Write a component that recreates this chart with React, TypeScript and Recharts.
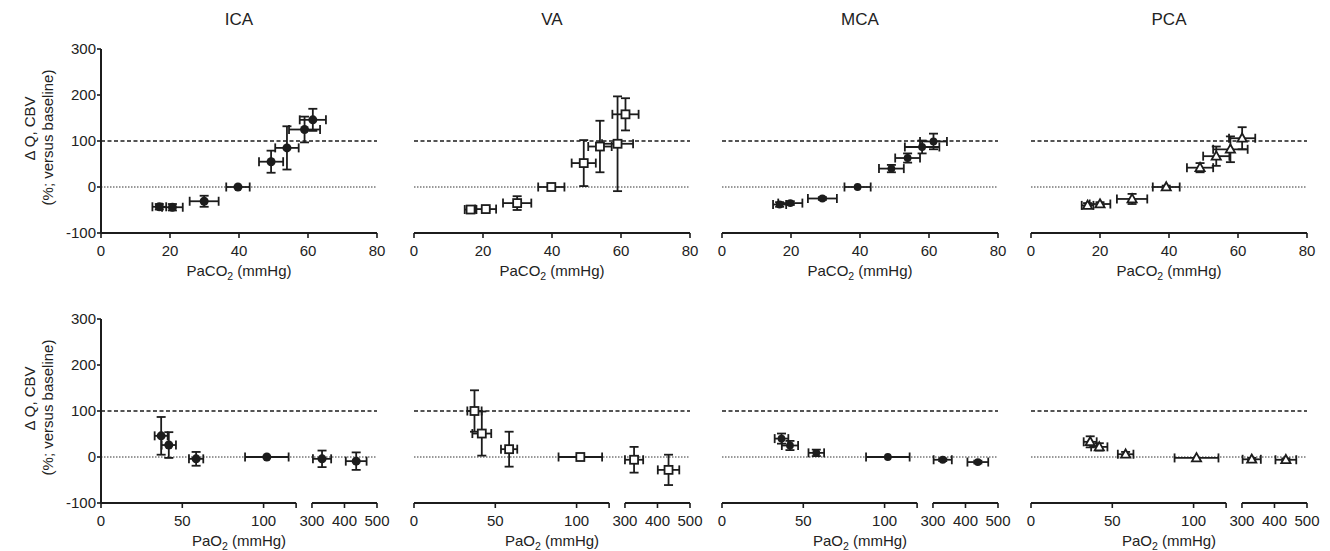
import React from 'react';
import { ScatterChart, Scatter, XAxis, YAxis, ReferenceLine, ErrorBar } from 'recharts';

// ---------- categories / tick labels ----------
const panelTitles = ['ICA', 'VA', 'MCA', 'PCA'];
const paco2Ticks = [0, 20, 40, 60, 80];
const pao2TickLabels = [0, 50, 100, 300, 400, 500];
const yTicks = [-100, 0, 100, 200, 300];

// ---------- PaCO2 row (x = PaCO2 mmHg, y = % change) ----------
const icaCO2X = [16.9, 20.7, 29.9, 39.7, 49.3, 53.9, 59.0, 61.4];
const icaCO2Y = [-43, -44, -31, 0, 55, 85, 125, 146];
const icaCO2Xe = [2.0, 3.0, 4.2, 3.4, 3.5, 3.4, 4.5, 3.8];
const icaCO2Ye = [6, 7, 12, 0, 24, 47, 28, 24];

const vaCO2X = [16.4, 20.8, 29.9, 39.8, 49.2, 53.9, 59.0, 61.3];
const vaCO2Y = [-49, -48, -35, 0, 52, 88, 94, 158];
const vaCO2Xe = [1.7, 3.0, 4.1, 3.8, 3.5, 3.4, 4.5, 3.8];
const vaCO2Ye = [4, 4, 15, 0, 50, 56, 103, 35];

const mcaCO2X = [16.7, 19.8, 29.1, 39.3, 49.1, 53.8, 58.0, 61.3];
const mcaCO2Y = [-38, -35, -25, 0, 40, 63, 87, 99];
const mcaCO2Xe = [1.9, 3.5, 4.2, 3.8, 3.6, 3.6, 5.0, 3.9];
const mcaCO2Ye = [5, 4, 3, 0, 8, 10, 14, 17];

const pcaCO2X = [16.4, 20.0, 29.3, 39.2, 49.0, 53.7, 57.8, 61.2];
const pcaCO2Y = [-40, -37, -26, 0, 42, 67, 82, 106];
const pcaCO2Xe = [1.7, 3.0, 4.4, 3.9, 3.8, 3.8, 5.0, 3.8];
const pcaCO2Ye = [5, 4, 11, 3, 10, 21, 28, 24];

// ---------- PaO2 row (x = PaO2 mmHg, y = % change) ----------
const icaO2X = [37.0, 41.7, 58.5, 102.0, 331, 436];
const icaO2Y = [46, 26, -4, 0, -4, -9];
const icaO2Xe = [4.0, 4.4, 4.4, 13.4, 28, 32];
const icaO2Ye = [41, 28, 15, 0, 18, 19];

const vaO2X = [37.2, 41.7, 58.5, 102.3, 328, 434];
const vaO2Y = [100, 51, 17, 0, -6, -28];
const vaO2Xe = [4.4, 5.8, 5.0, 13.4, 28, 33];
const vaO2Ye = [45, 48, 38, 0, 28, 33];

const mcaO2X = [36.6, 41.8, 58.0, 102.0, 330, 438];
const mcaO2Y = [40, 25, 9, 0, -6, -11];
const mcaO2Xe = [4.2, 5.0, 4.8, 13.4, 28, 32];
const mcaO2Ye = [11, 10, 7, 0, 3, 3];

const pcaO2X = [36.4, 42.0, 58.2, 101.8, 330, 435];
const pcaO2Y = [33, 22, 6, -2, -5, -6];
const pcaO2Xe = [4.0, 5.0, 4.8, 13.5, 28, 32];
const pcaO2Ye = [12, 8, 5, 0, 3, 3];

// ---------- broken PaO2 axis (0-120 | 300-500) ----------
const SEG1_MAX = 120;
const SEG2_MIN = 300;
const SEG2_MAX = 500;
const GAP = 9.75;
const SEG2_RATIO = 0.2;
const toBroken = (v: number) => (v <= 200 ? v : SEG1_MAX + GAP + (v - SEG2_MIN) * SEG2_RATIO);
const brokenScale = (v: number) => (v <= 200 ? 1 : SEG2_RATIO);
const fromBroken = (t: number) => {
  if (t <= SEG1_MAX + 0.01) return Math.abs(t - SEG1_MAX) < 0.01 ? '' : String(Math.round(t));
  return String(Math.round(SEG2_MIN + (t - SEG1_MAX - GAP) / SEG2_RATIO));
};
const brokenTicks = [0, 50, 100, SEG1_MAX, toBroken(300), toBroken(400), toBroken(500)];
const brokenMax = toBroken(SEG2_MAX);

const build = (x: number[], y: number[], xe: number[], ye: number[], broken: boolean) =>
  x.map((v, i) => ({
    x: broken ? toBroken(v) : v,
    y: y[i],
    ex: broken ? xe[i] * brokenScale(v) : xe[i],
    ey: ye[i],
  }));

// ---------- styling ----------
const FONT = '"Liberation Sans", Arial, Helvetica, sans-serif';
const INK = '#1c1c1c';
const TEXT = '#222';
const COL_LEFT = [101, 414, 722, 1031];
const PLOT_W = 276;
const PLOT_H = 184;
const ROW_TOP = [49, 319];
const ROW_MARGIN_TOP = [49, 39];
const XAXIS_H = 47;
const Y_W = 101;

const dotShape = (r: number) => (p: any) => <circle cx={p.cx} cy={p.cy} r={r} fill={INK} />;
const squareShape = (p: any) => (
  <rect x={p.cx - 4} y={p.cy - 4} width={8} height={8} fill="#fff" stroke={INK} strokeWidth={1.8} />
);
const triangleShape = (p: any) => (
  <polygon
    points={`${p.cx},${p.cy - 4.8} ${p.cx + 4.6},${p.cy + 3.4} ${p.cx - 4.6},${p.cy + 3.4}`}
    fill="#fff"
    stroke={INK}
    strokeWidth={1.8}
    strokeLinejoin="miter"
  />
);

const shapes = [dotShape(4.5), squareShape, dotShape(3.9), triangleShape];

const rows = [
  [
    build(icaCO2X, icaCO2Y, icaCO2Xe, icaCO2Ye, false),
    build(vaCO2X, vaCO2Y, vaCO2Xe, vaCO2Ye, false),
    build(mcaCO2X, mcaCO2Y, mcaCO2Xe, mcaCO2Ye, false),
    build(pcaCO2X, pcaCO2Y, pcaCO2Xe, pcaCO2Ye, false),
  ],
  [
    build(icaO2X, icaO2Y, icaO2Xe, icaO2Ye, true),
    build(vaO2X, vaO2Y, vaO2Xe, vaO2Ye, true),
    build(mcaO2X, mcaO2Y, mcaO2Xe, mcaO2Ye, true),
    build(pcaO2X, pcaO2Y, pcaO2Xe, pcaO2Ye, true),
  ],
];

type PanelProps = { data: any[]; row: number; col: number };

function Panel({ data, row, col }: PanelProps) {
  const broken = row === 1;
  const showY = col === 0;
  const mt = ROW_MARGIN_TOP[row];
  const axisStroke = { stroke: INK, strokeWidth: 2 };
  const tickStroke = { stroke: INK, strokeWidth: 1.6 };
  const tickText = { fill: TEXT, fontSize: 15, fontFamily: FONT };
  return (
    <div style={{ position: 'absolute', left: COL_LEFT[col] - Y_W, top: ROW_TOP[row] - mt }}>
      <ScatterChart
        width={Y_W + PLOT_W + 14}
        height={mt + PLOT_H + XAXIS_H}
        margin={{ top: mt, right: 14, bottom: 0, left: 0 }}
      >
        <XAxis
          type="number"
          dataKey="x"
          domain={broken ? [0, brokenMax] : [0, 80]}
          ticks={broken ? brokenTicks : paco2Ticks}
          tickFormatter={broken ? (v: number) => fromBroken(v) : (v: number) => String(v)}
          interval={0}
          allowDataOverflow
          height={XAXIS_H}
          axisLine={broken ? false : axisStroke}
          tickLine={tickStroke}
          tickSize={5}
          tickMargin={7}
          tick={tickText}
        />
        <YAxis
          type="number"
          dataKey="y"
          domain={[-100, 300]}
          ticks={yTicks}
          interval={0}
          allowDataOverflow
          width={Y_W}
          axisLine={showY ? axisStroke : false}
          tickLine={showY ? tickStroke : false}
          tick={showY ? tickText : false}
          tickSize={4}
          tickMargin={1}
        />
        <ReferenceLine y={0} stroke="#333" strokeWidth={1} strokeDasharray="1.5 1.5" />
        <ReferenceLine y={100} stroke={INK} strokeWidth={1.7} strokeDasharray="4 2.5" />
        {broken && (
          <ReferenceLine
            segment={[
              { x: 0, y: -100 },
              { x: SEG1_MAX, y: -100 },
            ]}
            stroke={INK}
            strokeWidth={2}
          />
        )}
        {broken && (
          <ReferenceLine
            segment={[
              { x: toBroken(SEG2_MIN), y: -100 },
              { x: brokenMax, y: -100 },
            ]}
            stroke={INK}
            strokeWidth={2}
          />
        )}
        <Scatter data={data} shape={shapes[col]} isAnimationActive={false}>
          <ErrorBar dataKey="ex" direction="x" width={4.5} stroke={INK} strokeWidth={1.8} />
          <ErrorBar dataKey="ey" direction="y" width={4.5} stroke={INK} strokeWidth={1.8} />
        </Scatter>
      </ScatterChart>
    </div>
  );
}

function AxisTitle({ x, y, main }: { x: number; y: number; main: string }) {
  return (
    <text x={x} y={y} textAnchor="middle" fontSize={15} fontFamily={FONT} fill={TEXT}>
      {main}
      <tspan fontSize={10.5} dy={4}>2</tspan>
      <tspan dy={-4}> (mmHg)</tspan>
    </text>
  );
}

export default function App() {
  return (
    <div
      style={{
        position: 'absolute',
        left: 0,
        top: 0,
        width: 1330,
        height: 551,
        overflow: 'hidden',
        background: '#fff',
        fontFamily: FONT,
      }}
    >
      {rows.map((r, ri) => r.map((d, ci) => <Panel key={`${ri}-${ci}`} data={d} row={ri} col={ci} />))}
      <svg
        width={1330}
        height={551}
        style={{ position: 'absolute', left: 0, top: 0, pointerEvents: 'none' }}
      >
        {panelTitles.map((t, i) => (
          <text
            key={t}
            x={COL_LEFT[i] + PLOT_W / 2}
            y={25}
            textAnchor="middle"
            fontSize={17}
            fontFamily={FONT}
            fill={TEXT}
          >
            {t}
          </text>
        ))}
        {COL_LEFT.map((l, i) => (
          <g key={`xt${i}`}>
            <AxisTitle x={l + PLOT_W / 2} y={ROW_TOP[0] + PLOT_H + 43} main="PaCO" />
            <AxisTitle x={l + PLOT_W / 2} y={ROW_TOP[1] + PLOT_H + 43} main="PaO" />
          </g>
        ))}
        {ROW_TOP.map((top, i) => {
          const c = top + PLOT_H / 2;
          return (
            <g key={`yt${i}`} fontSize={15} fontFamily={FONT} fill={TEXT}>
              <text x={35} y={c - 12.5} textAnchor="middle" transform={`rotate(-90 35 ${c - 12.5})`}>
                Δ Q, CBV
              </text>
              <text x={53} y={c - 3.5} textAnchor="middle" transform={`rotate(-90 53 ${c - 3.5})`}>
                (%; versus baseline)
              </text>
            </g>
          );
        })}
      </svg>
    </div>
  );
}
